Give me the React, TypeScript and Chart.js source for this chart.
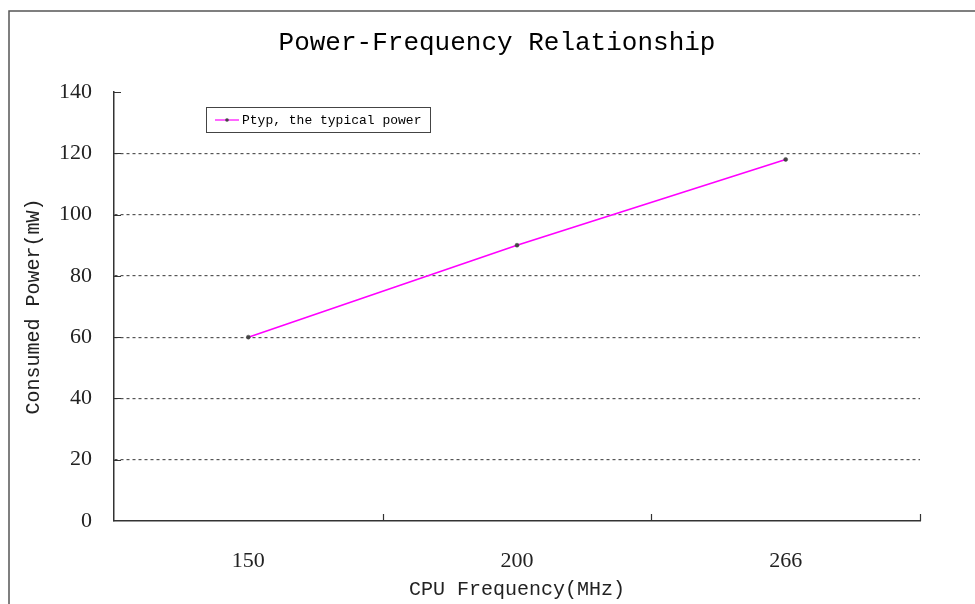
import React, { useEffect, useRef } from "react";
import { Chart, registerables } from "chart.js";

Chart.register(...registerables);

const categories = ["150", "200", "266"];
const typicalPower = [60, 90, 118];
const seriesLabel = "Ptyp, the typical power";
const chartTitle = "Power-Frequency Relationship";
const xTitle = "CPU Frequency(MHz)";
const yTitle = "Consumed Power(mW)";
const yMin = 0;
const yMax = 140;
const yStep = 20;

const MONO = "'Liberation Mono', 'DejaVu Sans Mono', monospace";
const SERIF = "'Liberation Serif', 'DejaVu Serif', serif";

const decorPlugin = {
  id: "decor",
  beforeDraw(chart: any) {
    const ctx = chart.ctx;
    ctx.save();
    ctx.strokeStyle = "#555";
    ctx.lineWidth = 1.5;
    ctx.beginPath();
    ctx.moveTo(9, chart.height);
    ctx.lineTo(9, 11);
    ctx.lineTo(chart.width, 11);
    ctx.stroke();
    ctx.fillStyle = "#000";
    ctx.font = `26px ${MONO}`;
    ctx.textAlign = "center";
    ctx.textBaseline = "middle";
    ctx.fillText(chartTitle, 497, 43);
    ctx.restore();
  },
  afterDraw(chart: any) {
    const ctx = chart.ctx;
    const x = chart.scales.x;
    const y = chart.scales.y;
    const area = chart.chartArea;
    ctx.save();
    ctx.strokeStyle = "#333";
    ctx.lineWidth = 1.2;
    ctx.beginPath();
    for (let i = 1; i <= categories.length; i++) {
      const px = Math.round(x.getPixelForValue(i - 0.5)) + 0.5;
      ctx.moveTo(px, area.bottom);
      ctx.lineTo(px, area.bottom - 7);
    }
    for (let v = yMin + yStep; v <= yMax; v += yStep) {
      const py = Math.round(y.getPixelForValue(v)) + 0.5;
      ctx.moveTo(area.left, py);
      ctx.lineTo(area.left + 7, py);
    }
    ctx.stroke();

    const ds = chart.data.datasets[0];
    const bx = 206.5, by = 107.5, bw = 224, bh = 25;
    ctx.fillStyle = "#fff";
    ctx.fillRect(bx, by, bw, bh);
    ctx.strokeStyle = "#444";
    ctx.lineWidth = 1;
    ctx.strokeRect(bx, by, bw, bh);
    const cy = by + bh / 2;
    ctx.strokeStyle = ds.borderColor;
    ctx.lineWidth = 1.2;
    ctx.beginPath();
    ctx.moveTo(215, cy);
    ctx.lineTo(239, cy);
    ctx.stroke();
    ctx.fillStyle = ds.pointBackgroundColor;
    ctx.beginPath();
    ctx.arc(227, cy, 1.8, 0, Math.PI * 2);
    ctx.fill();
    ctx.fillStyle = "#000";
    ctx.font = `13px ${MONO}`;
    ctx.textBaseline = "middle";
    ctx.textAlign = "left";
    ctx.fillText(ds.label, 242, cy + 1);
    ctx.restore();
  },
};

export default function App() {
  const ref = useRef<HTMLCanvasElement | null>(null);

  useEffect(() => {
    document.body.style.margin = "0";
    const canvas = ref.current;
    if (!canvas) return;
    const chart = new Chart(canvas, {
      type: "line",
      data: {
        labels: categories,
        datasets: [
          {
            label: seriesLabel,
            data: typicalPower,
            borderColor: "#ff00ff",
            borderWidth: 1.6,
            pointRadius: 2,
            pointBackgroundColor: "#444",
            pointBorderColor: "#444",
            pointBorderWidth: 0.5,
            tension: 0,
          },
        ],
      },
      options: {
        animation: false,
        responsive: false,
        devicePixelRatio: 1,
        layout: { padding: { left: 0, right: 55, top: 92, bottom: 0 } },
        plugins: {
          legend: { display: false },
          tooltip: { enabled: false },
          title: { display: false },
        },
        scales: {
          x: {
            type: "category",
            offset: true,
            grid: { display: false, drawTicks: false },
            border: { display: true, color: "#333", width: 1.5 },
            ticks: {
              color: "#222",
              padding: 27,
              font: { family: SERIF, size: 22 },
              maxRotation: 0,
            },
            title: {
              display: true,
              text: xTitle,
              color: "#222",
              font: { family: MONO, size: 20, lineHeight: 1.2 },
              padding: { top: 0, bottom: 2 },
            },
            afterFit(scale: any) {
              scale.height = 83;
            },
          },
          y: {
            min: yMin,
            max: yMax,
            ticks: {
              stepSize: yStep,
              color: "#222",
              padding: 22,
              font: { family: SERIF, size: 22 },
            },
            grid: {
              drawTicks: false,
              color: (c: any) =>
                c.tick && (c.tick.value === yMin || c.tick.value === yMax)
                  ? "rgba(0,0,0,0)"
                  : "#555",
              lineWidth: 1.2,
            },
            border: { display: true, color: "#333", width: 1.5, dash: [3, 3] },
            title: {
              display: true,
              text: yTitle,
              color: "#222",
              font: { family: MONO, size: 20, lineHeight: 1.2 },
              padding: { top: 22, bottom: 0 },
            },
            afterFit(scale: any) {
              scale.width = 114;
            },
          },
        },
      },
      plugins: [decorPlugin],
    });
    return () => chart.destroy();
  }, []);

  return (
    <div style={{ width: 975, height: 604 }}>
      <canvas ref={ref} width={975} height={604} style={{ display: "block" }} />
    </div>
  );
}
